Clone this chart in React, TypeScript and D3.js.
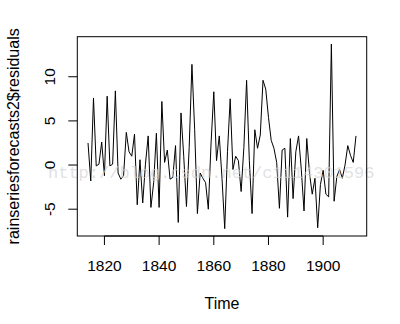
import React from "react";
import * as d3 from "d3";

// residuals of the rain series forecasts, one per year starting 1814
const startYear = 1814;
const residuals = [
  2.5, -1.8, 7.6, -0.1, 0.1, 2.6, -1.2, 7.8, -0.1, 0.1,
  8.4, -0.9, -1.6, -1.2, 3.7, 1.5, 1.0, 3.5, -4.5, 0.6,
  -4.3, 0.1, 3.3, -4.8, -2.0, 3.6, -4.8, 7.2, 0.3, 1.7,
  -1.6, -1.4, 2.2, -6.5, 5.9, 1.0, -4.7, 2.0, 11.4, 4.0,
  -5.5, -0.9, -1.5, -2.0, -5.0, 2.5, 8.3, 0.5, 3.3, -1.5,
  -7.2, 1.5, 7.5, -0.5, 1.0, 0.5, -3.0, 2.0, 9.6, 0.5,
  -5.5, 4.0, 1.9, 3.4, 9.6, 8.6, 5.4, 2.8, 1.9, 0.3,
  -4.9, 1.7, 1.9, -5.9, 3.0, -3.8, 1.5, 3.3, -0.5, -5.2,
  3.0, -0.9, -3.3, -1.5, -7.1, -2.2, -0.6, -3.3, -3.6, 13.7,
  -4.1, -1.3, -0.5, -1.5, 0.0, 2.2, 1.1, 0.3, 3.3,
];
const years = residuals.map((_, i) => startYear + i);

const xTicks = [1820, 1840, 1860, 1880, 1900];
const yTicks = [-5, 0, 5, 10];

const xLabel = "Time";
const yLabel = "rainseriesforecasts2$residuals";
const watermark = "http://blog.csdn.net/c1114301596";

// R style 4% padding on both axes
function padded(lo: number, hi: number): [number, number] {
  const r = hi - lo;
  return [lo - 0.04 * r, hi + 0.04 * r];
}

export default function App() {
  const W = 400, H = 324;
  const left = 77.3, right = 366.7, top = 36.7, bottom = 236;

  const x = d3.scaleLinear()
    .domain(padded(d3.min(years)!, d3.max(years)!))
    .range([left, right]);
  const y = d3.scaleLinear()
    .domain(padded(d3.min(residuals)!, d3.max(residuals)!))
    .range([bottom, top]);

  const line = d3.line<number>()
    .x((_, i) => x(years[i]))
    .y((d) => y(d));

  const font = "'Liberation Sans', Arial, sans-serif";
  const tick = 9;

  return (
    <svg width={W} height={H} style={{ position: "absolute", left: 0, top: 0, background: "#fff" }}>
      <rect x={0} y={0} width={W} height={H} fill="#fff" />
      <path d={line(residuals) ?? ""} fill="none" stroke="#000" strokeWidth={1} />

      <text x={48} y={178} fontFamily="'Liberation Mono', 'Courier New', monospace" fontSize={17}
        fill="#d4d4d4" fillOpacity={0.7}>{watermark}</text>

      <rect x={left} y={top} width={right - left} height={bottom - top}
        fill="none" stroke="#000" strokeWidth={1} />

      {/* x axis */}
      <line x1={x(xTicks[0])} x2={x(xTicks[xTicks.length - 1])} y1={bottom} y2={bottom} stroke="#000" />
      {xTicks.map((t) => (
        <g key={t}>
          <line x1={x(t)} x2={x(t)} y1={bottom} y2={bottom + tick} stroke="#000" />
          <text x={x(t)} y={271} textAnchor="middle" fontFamily={font} fontSize={15.5}>{t}</text>
        </g>
      ))}

      {/* y axis */}
      {yTicks.map((t) => (
        <g key={t}>
          <line x1={left - tick} x2={left} y1={y(t)} y2={y(t)} stroke="#000" />
          <text transform={`translate(55,${y(t)}) rotate(-90)`} textAnchor="middle"
            fontFamily={font} fontSize={15.5}>{t}</text>
        </g>
      ))}

      <text x={(left + right) / 2} y={309} textAnchor="middle" fontFamily={font} fontSize={16}>{xLabel}</text>
      <text transform={`translate(19,${(top + bottom) / 2}) rotate(-90)`} textAnchor="middle"
        fontFamily={font} fontSize={16}>{yLabel}</text>
    </svg>
  );
}
